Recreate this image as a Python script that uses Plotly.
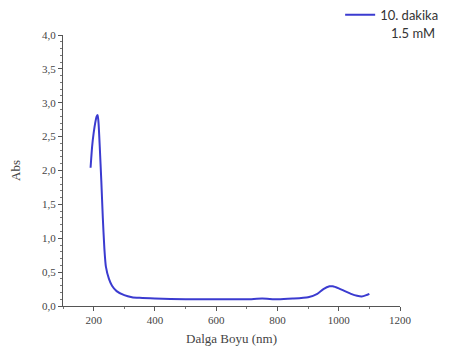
import plotly.graph_objects as go

wavelength = [190, 195, 200, 205, 210, 213, 216, 220, 225, 230, 235, 240, 250, 260, 275,
              300, 325, 350, 400, 500, 600, 700, 750, 800, 850, 900, 930, 950, 970, 980,
              1000, 1020, 1040, 1060, 1075, 1090, 1100]
absorbance = [2.04, 2.35, 2.55, 2.70, 2.80, 2.82, 2.70, 2.35, 1.85, 1.30, 0.85, 0.58, 0.40, 0.30, 0.22,
              0.16, 0.13, 0.12, 0.11, 0.10, 0.10, 0.10, 0.11, 0.10, 0.11, 0.13, 0.18, 0.25, 0.29, 0.29,
              0.26, 0.22, 0.18, 0.15, 0.14, 0.16, 0.18]
series_name = "10. dakika"
series_subtitle = "1.5 mM"

serif = "Liberation Serif, Times New Roman, serif"
sans = "Lato, Open Sans, sans-serif"

fig = go.Figure()
fig.add_trace(go.Scatter(x=wavelength, y=absorbance, mode="lines", name=series_name,
                         line=dict(color="#3b3bd0", width=2, shape="spline", smoothing=0.6),
                         showlegend=True))

axis_common = dict(showline=True, linecolor="#555", linewidth=1, ticks="outside",
                   ticklen=4, tickcolor="#555", showgrid=False, zeroline=False,
                   automargin=False,
                   tickfont=dict(family=serif, size=11, color="#444"),
                   minor=dict(ticks="outside", ticklen=2, tickcolor="#777"))

# page body has an 8px default margin, so the figure is 8px smaller
fig.update_layout(
    width=448, height=355,
    margin=dict(l=55, r=56, t=27, b=57, autoexpand=False),
    paper_bgcolor="white", plot_bgcolor="white",
    separators=", ",
    showlegend=True,
    legend=dict(x=1.131, y=1.13, xanchor="right", yanchor="top",
                font=dict(family=sans, size=13, color="#333"),
                bgcolor="rgba(0,0,0,0)", itemwidth=30),
    xaxis=dict(range=[100, 1200], tickvals=[200, 400, 600, 800, 1000, 1200],
               title=dict(text="Dalga Boyu (nm)", font=dict(family=serif, size=13, color="#444"), standoff=8),
               **axis_common),
    yaxis=dict(range=[0, 4], dtick=0.5, tickformat=".1f",
               title=dict(text="Abs", font=dict(family=serif, size=13, color="#444"), standoff=22),
               **axis_common),
)
fig.update_xaxes(minor=dict(dtick=100))
fig.update_yaxes(minor=dict(dtick=0.1))

fig.add_annotation(text=series_subtitle, xref="paper", yref="paper", x=1.11, y=1.007,
                   xanchor="right", yanchor="middle", showarrow=False,
                   font=dict(family=sans, size=13, color="#333"))

fig.write_html("out.html")
